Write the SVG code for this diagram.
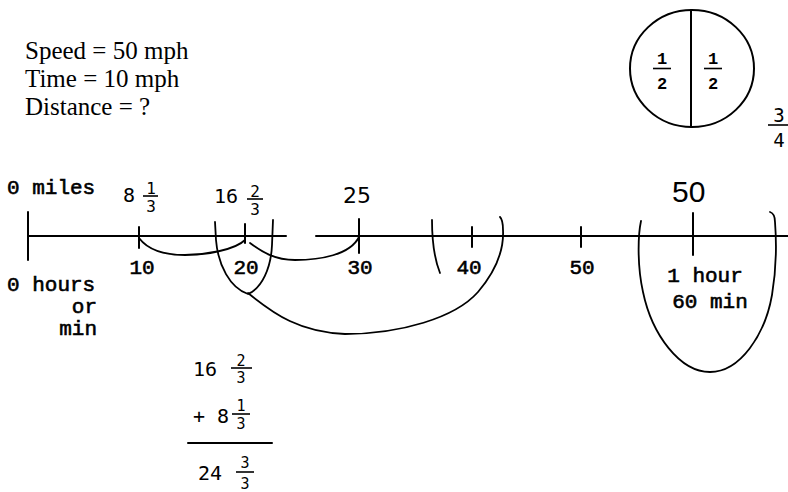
<svg xmlns="http://www.w3.org/2000/svg" width="788" height="492" viewBox="0 0 788 492">
<style>
.ln{stroke:#000;stroke-width:2;fill:none;stroke-linecap:round;stroke-linejoin:round}
.cv{stroke:#000;stroke-width:1.8;fill:none;stroke-linecap:round}
.tm{font-family:"Liberation Serif","Times New Roman",serif;font-size:25px;fill:#000}
.cr{font-family:"Liberation Mono","Courier New",monospace;font-size:21px;fill:#000;stroke:#000;stroke-width:0.6}
.dg{font-family:"DejaVu Sans Mono","Liberation Mono",monospace;font-size:20px;fill:#000}
.fr{font-family:"DejaVu Sans Mono","Liberation Mono",monospace;font-size:15px;fill:#000;text-anchor:middle}
.fh{font-family:"Liberation Mono","Courier New",monospace;font-size:17px;font-weight:bold;fill:#000;text-anchor:middle}
.fb{stroke:#000;stroke-width:1.6}
</style>
<rect width="788" height="492" fill="#fff"/>
<g id="problem">
<text class="tm" x="25" y="59">Speed = 50 mph</text>
<text class="tm" x="25" y="87">Time = 10 mph</text>
<text class="tm" x="25" y="115">Distance = ?</text>
</g>
<g id="circle">
<ellipse class="ln" cx="692" cy="68.5" rx="62" ry="58.5"/>
<line class="ln" x1="691" y1="10" x2="691" y2="127"/>
<text class="fh" x="662" y="64">1</text>
<line class="fb" x1="653" y1="68.5" x2="671" y2="68.5"/>
<text class="fh" x="662" y="89">2</text>
<text class="fh" x="713" y="64">1</text>
<line class="fb" x1="704" y1="68.5" x2="722" y2="68.5"/>
<text class="fh" x="713" y="89">2</text>
</g>
<g id="three-quarters">
<text class="fr" x="779" y="122" style="font-size:19px">3</text>
<line class="fb" x1="768" y1="125" x2="788" y2="125"/>
<text class="fr" x="779" y="147" style="font-size:19px">4</text>
</g>
<g id="number-line">
<line class="ln" x1="28" y1="236" x2="286" y2="236"/>
<line class="ln" x1="316" y1="236" x2="788" y2="236"/>
<line class="ln" x1="28" y1="212" x2="28" y2="260"/>
<line class="ln" x1="139" y1="227" x2="139" y2="248"/>
<line class="ln" x1="245" y1="224" x2="245" y2="243"/>
<line class="ln" x1="359" y1="219" x2="359" y2="253"/>
<line class="ln" x1="472" y1="227" x2="472" y2="247"/>
<line class="ln" x1="581" y1="227" x2="581" y2="247"/>
<line class="ln" x1="693" y1="213" x2="693" y2="255"/>
</g>
<g id="miles-labels">
<text class="cr" x="7" y="194">0 miles</text>
<text class="dg" x="123" y="202">8</text>
<text class="fr" x="151" y="194" style="font-size:16px">1</text>
<line class="fb" x1="143" y1="196" x2="158" y2="196"/>
<text class="fr" x="151" y="212" style="font-size:16px">3</text>
<text class="dg" x="214" y="203">16</text>
<text class="fr" x="255" y="197" style="font-size:16px">2</text>
<line class="fb" x1="247" y1="199" x2="263" y2="199"/>
<text class="fr" x="255" y="215" style="font-size:16px">3</text>
<text x="343" y="203" style="font-family:'DejaVu Sans',sans-serif;font-size:22px">25</text>
<text x="672" y="202" style="font-family:'Liberation Sans',Arial,sans-serif;font-size:30px">50</text>
</g>
<g id="time-labels">
<text class="cr" x="142" y="274" text-anchor="middle">10</text>
<text class="cr" x="246" y="274" text-anchor="middle">20</text>
<text class="cr" x="360" y="274" text-anchor="middle">30</text>
<text class="cr" x="469" y="274" text-anchor="middle">40</text>
<text class="cr" x="582" y="274" text-anchor="middle">50</text>
<text class="cr" x="7" y="291">0 hours</text>
<text class="cr" x="97" y="313" text-anchor="end">or</text>
<text class="cr" x="97" y="335" text-anchor="end">min</text>
<text class="cr" x="705" y="282" text-anchor="middle">1 hour</text>
<text class="cr" x="710" y="308" text-anchor="middle">60 min</text>
</g>
<g id="connectors">
<path class="cv" d="M139,238 C148,250 165,255 185,255 C205,255 235,250 245,240"/>
<path class="cv" d="M250,243 C262,252 275,260 295,260 C320,260 350,255 359,237"/>
<path class="cv" d="M215,222 L216,240 C218,265 230,288 248,294 C262,288 271,268 272,245 L273,220"/>
<path class="cv" d="M248,293 C275,315 300,332 345,334 C400,334 455,318 478,292 C495,272 504,250 503,230 C503,222 502,219 500,217"/>
<path class="cv" d="M432,220 C432,240 434,258 440,273"/>
<path class="cv" d="M641,221 C638,235 637,265 643,292 C652,335 680,372 710,372 C740,372 765,335 772,295 C777,265 776,235 775,222 C775,216 773,213 770,212"/>
</g>
<g id="sum">
<text class="dg" x="193" y="376">16</text>
<text class="fr" x="241" y="366">2</text>
<line class="fb" x1="231" y1="368" x2="252" y2="368"/>
<text class="fr" x="241" y="383">3</text>
<text class="dg" x="193" y="423">+ 8</text>
<text class="fr" x="241" y="411">1</text>
<line class="fb" x1="232" y1="414" x2="250" y2="414"/>
<text class="fr" x="241" y="429">3</text>
<line class="ln" x1="188" y1="443" x2="272" y2="443"/>
<text class="dg" x="198" y="480">24</text>
<text class="fr" x="245" y="468">3</text>
<line class="fb" x1="236" y1="472" x2="254" y2="472"/>
<text class="fr" x="245" y="489">3</text>
</g>
</svg>
